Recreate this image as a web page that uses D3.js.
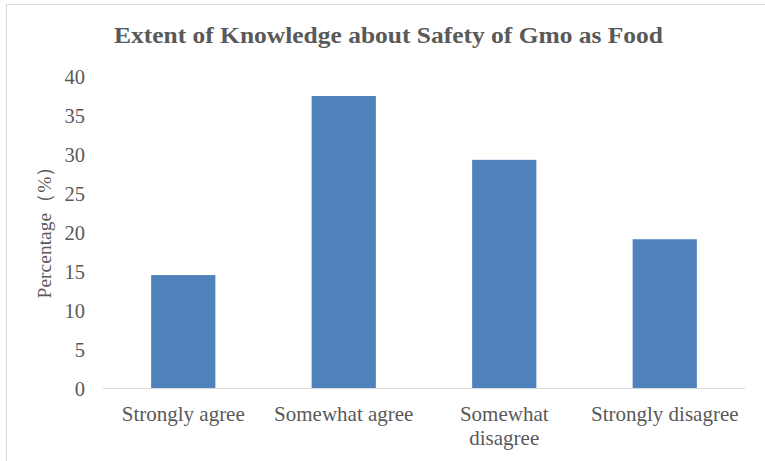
<!DOCTYPE html>
<html>
<head>
<meta charset="utf-8">
<style>
  * { margin: 0; padding: 0; }
  body { background: #fff; }
  svg { display: block; font-family: "Liberation Serif", "Times New Roman", serif; }
</style>
</head>
<body>
<div id="chart"></div>
<script src="https://cdn.jsdelivr.net/npm/d3@7"></script>
<script>
const categories = [['Strongly agree'], ['Somewhat agree'], ['Somewhat', 'disagree'], ['Strongly disagree']];
const values = [14.5, 37.5, 29.3, 19.1];
const yTicks = [0, 5, 10, 15, 20, 25, 30, 35, 40];
const title = 'Extent of Knowledge about Safety of Gmo as Food';
const yLabel = 'Percentage（%）';

const width = 765, height = 461;
const m = { left: 103, right: 20, top: 76.5, bottom: 73 };
const textColor = '#595959';

const svg = d3.select('#chart').append('svg')
  .attr('width', width).attr('height', height);

// chart frame (only top/left edges visible)
svg.append('rect')
  .attr('x', 6.5).attr('y', 4.5)
  .attr('width', width + 10).attr('height', height + 10)
  .attr('fill', '#fff').attr('stroke', '#d9d9d9').attr('stroke-width', 1);

const keys = categories.map(c => c.join(' '));
const x = d3.scaleBand().domain(keys)
  .range([m.left, width - m.right]).paddingInner(0.6).paddingOuter(0.3);
const y = d3.scaleLinear().domain([0, 40]).range([height - m.bottom, m.top]);

svg.append('g').selectAll('rect')
  .data(values)
  .join('rect')
  .attr('x', (d, i) => x(keys[i]))
  .attr('y', d => y(d))
  .attr('width', x.bandwidth())
  .attr('height', d => y(0) - y(d))
  .attr('fill', '#4f81bd');

// y axis: labels only
const yAxis = svg.append('g')
  .attr('transform', 'translate(' + (m.left - 18) + ',0)')
  .call(d3.axisLeft(y).tickValues(yTicks).tickSize(0).tickPadding(0));
yAxis.select('.domain').remove();
yAxis.selectAll('text')
  .attr('font-family', 'Liberation Serif').attr('font-size', 20.5)
  .attr('fill', textColor).attr('dy', '0.35em');

// x axis line
svg.append('line')
  .attr('x1', m.left).attr('x2', width - m.right)
  .attr('y1', y(0) + 0.5).attr('y2', y(0) + 0.5)
  .attr('stroke', '#d9d9d9').attr('stroke-width', 1);

const xl = svg.append('g').selectAll('text')
  .data(categories)
  .join('text')
  .attr('x', (d, i) => x(keys[i]) + x.bandwidth() / 2)
  .attr('y', 421)
  .attr('text-anchor', 'middle')
  .attr('font-size', 21).attr('fill', textColor);
xl.selectAll('tspan')
  .data(d => d)
  .join('tspan')
  .attr('x', function() { return this.parentNode.getAttribute('x'); })
  .attr('dy', (d, i) => i ? 24 : 0)
  .text(d => d);

svg.append('text')
  .attr('transform', 'translate(51,227.5) rotate(-90)')
  .attr('text-anchor', 'middle')
  .attr('font-size', 19.5).attr('fill', textColor)
  .text(yLabel);

svg.append('text')
  .attr('x', 388.5).attr('y', 43)
  .attr('text-anchor', 'middle')
  .attr('font-size', 23.5).attr('font-weight', 'bold').attr('fill', textColor)
  .attr('textLength', 549).attr('lengthAdjust', 'spacingAndGlyphs')
  .text(title);
</script>
</body>
</html>
